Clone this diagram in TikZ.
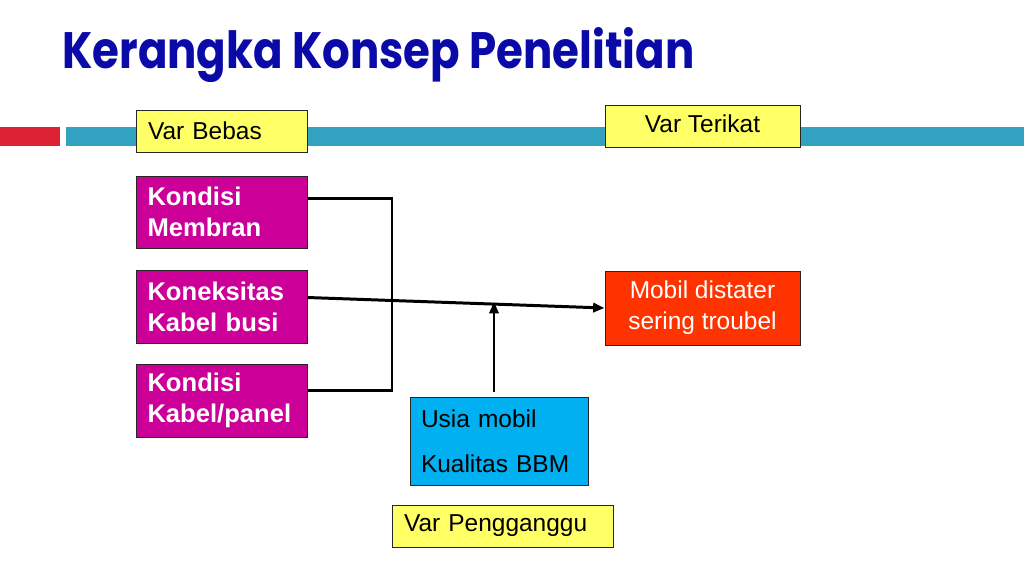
\documentclass[tikz,border=0pt]{standalone}
\usepackage{fontspec}
\setmainfont{Liberation Sans}
\newfontfamily\titlefont{Poppins}
\usetikzlibrary{arrows.meta}

\definecolor{barblue}{HTML}{31A2C0}
\definecolor{barred}{HTML}{DD2233}
\definecolor{varyellow}{HTML}{FFFF66}
\definecolor{varmagenta}{HTML}{CC0099}
\definecolor{varorange}{HTML}{FF3300}
\definecolor{varcyan}{HTML}{00B0F0}
\definecolor{titleblue}{HTML}{0A0AA8}

% one pixel of the 1024x576 slide
\newdimen\px \px=0.703125pt

\begin{document}
\begin{tikzpicture}[x=\px,y=-\px,
  varbox/.style={draw=black!85,line width=0.7pt,inner sep=0pt,
    font=\fontsize{17.2}{21.6}\selectfont},
  boldbox/.style={varbox,fill=varmagenta,text=white,minimum width=171\px,
    minimum height=73\px,text width=148\px,align=left,
    font=\fontsize{18}{21.6}\selectfont\bfseries},
  link/.style={line width=2.1pt},
  tip/.style={-{Triangle[length=8pt,width=6.5pt]}}]
\useasboundingbox (0,0) rectangle (1024,576);

% title and bars
\node[anchor=base west,text=titleblue,inner sep=0pt] (title) at (62,68)
  {\scalebox{0.85}[1]{\titlefont\bfseries\fontsize{36}{40}\selectfont Kerangka Konsep Penelitian}};
\fill[barred] (0,127) rectangle (60,146);
\fill[barblue] (66,127) rectangle (1024,146);

% variabel bebas
\node[varbox,fill=varyellow,minimum width=171\px,minimum height=42\px,
  text width=147\px,align=left] (bebas) at (221.5,131) {Var Bebas};
\node[boldbox,minimum height=72\px] (membran) at (221.5,212) {Kondisi\\Membran};
\node[boldbox] (busi) at (221.5,306.5) {Koneksitas\\Kabel busi};
\node[boldbox] (panel) at (221.5,400.5) {Kondisi\\Kabel/panel};

% variabel terikat
\node[varbox,fill=varyellow,minimum width=195\px,minimum height=42\px] (terikat) at (702.5,126) {Var Terikat\strut};
\node[varbox,fill=varorange,text=white,minimum width=195\px,minimum height=74\px,
  align=center] (mobil) at (702.5,308) {Mobil distater\\sering troubel};

% variabel pengganggu
\node[varbox,fill=varcyan,minimum width=178\px,minimum height=88\px,
  text width=156\px,align=left] (usia) at (499,441) {Usia mobil\\[10pt]Kualitas BBM};
\node[varbox,fill=varyellow,minimum width=221\px,minimum height=42\px,
  text width=197\px,align=left] (ganggu) at (502.5,526) {Var Pengganggu};

% connectors
\coordinate (brtop) at (392,198);
\coordinate (brbot) at (392,390);
\coordinate (meet) at (494,302);
\draw[link] (membran.east |- brtop) -- (brtop) -- (brbot) -- (panel.east |- brbot);
\draw[link,tip] ([yshift=9\px]busi.east) -- (mobil.west);
\draw[link,tip] (usia.north -| meet) ++(0,-5) -- (meet);
\end{tikzpicture}
\end{document}
